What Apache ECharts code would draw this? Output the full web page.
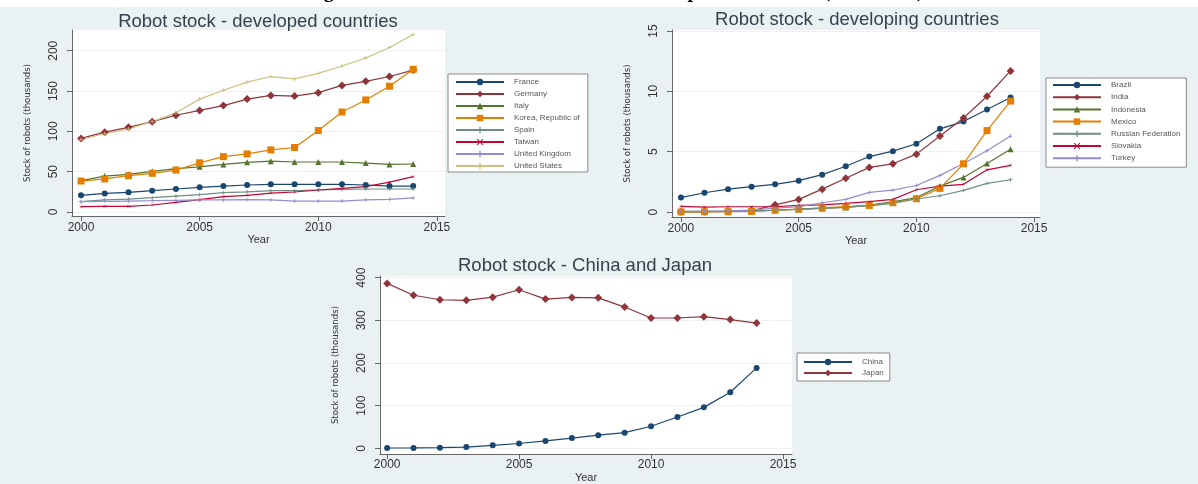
<!DOCTYPE html>
<html>
<head>
<meta charset="utf-8">
<script src="https://cdn.jsdelivr.net/npm/echarts@6/dist/echarts.min.js"></script>
<style>
html,body{margin:0;padding:0;background:#fff;}
#c{width:1198px;height:484px;}
</style>
</head>
<body>
<div id="c"></div>
<script>
// ---- data ----
const years = [2000,2001,2002,2003,2004,2005,2006,2007,2008,2009,2010,2011,2012,2013,2014];
const xTicks = [2000,2005,2010,2015];
const yTicksDeveloped = [0,50,100,150,200];
const yTicksDeveloping = [0,5,10,15];
const yTicksCJ = [0,100,200,300,400];

// developed countries (thousands)
const france  = [20.7,23,24.4,26.4,28.5,30.6,32.2,33.5,34.3,34.3,34.3,34.3,33.5,32.2,32.2];
const germany = [91.3,99,105,112,120,126,132,140,144.6,143.8,148,157,162,168,176];
const italy   = [39,44.6,46.7,50.4,53.7,56,59,61.6,63,62,62,62,60.7,59,59.5];
const korea   = [38.4,41,45,48,52,61,68.6,72,77,80,101,124,139,156,177];
const spain   = [12.8,15,16,17.8,19.8,21.5,24,25,26.4,26.4,27.3,28,28.5,28.5,28.5];
const taiwan  = [6.6,7,7,8.7,12,15.3,19,20.7,23.5,24.8,27.3,29.3,31.4,37,43.8];
const uk      = [12.8,13.2,13.6,14,14.5,15,15,15.3,15,13.6,13.6,13.6,15,15.7,17.4];
const us      = [90,97,103,112,123,140,151,161,168,165,172,181,191,204,220];

// developing countries (thousands)
const brazil    = [1.2,1.6,1.9,2.1,2.3,2.6,3.1,3.8,4.6,5.05,5.66,6.9,7.5,8.5,9.5];
const india     = [0.02,0.03,0.05,0.1,0.6,1.05,1.9,2.8,3.7,4.0,4.8,6.3,7.8,9.6,11.7];
const indonesia = [0.02,0.03,0.05,0.08,0.15,0.22,0.3,0.38,0.58,0.85,1.2,2.15,2.87,4.03,5.2];
const mexico    = [0.01,0.02,0.03,0.05,0.15,0.25,0.35,0.45,0.55,0.77,1.1,1.96,4.0,6.75,9.2];
const russia    = [0.05,0.05,0.08,0.1,0.15,0.25,0.33,0.4,0.52,0.72,1.08,1.35,1.8,2.38,2.68];
const slovakia  = [0.47,0.41,0.44,0.44,0.44,0.55,0.6,0.72,0.86,1.05,1.85,2.15,2.3,3.5,3.87];
const turkey    = [0.05,0.08,0.1,0.16,0.33,0.44,0.77,1.05,1.63,1.82,2.2,3.04,4.03,5.08,6.3];

// China and Japan (thousands)
const china = [0.8,1,1.5,3,7,11.3,17.3,24,30.8,36.8,51.8,73.5,96,131.3,188.4];
const japan = [386.5,358.7,348.2,346.7,354.2,371.5,349.7,353.5,352.7,331,305.4,305.4,308.4,301.7,293.4];

const namesDeveloped = ['France','Germany','Italy','Korea, Republic of','Spain','Taiwan','United Kingdom','United States'];
const namesDeveloping = ['Brazil','India','Indonesia','Mexico','Russian Federation','Slovakia','Turkey'];
const namesCJ = ['China','Japan'];

// ---- styles ----
const C = {navy:'#1a476f', maroon:'#90353b', green:'#55752f', orange:'#e37e00', teal:'#6e8e84', cran:'#c10534', lav:'#938dd2', khaki:'#cac27e'};
const PLUS = 'path://M4,0H6V4H10V6H6V10H4V6H0V4H4Z';
const XSYM = 'path://M1,0L5,4L9,0L10,1L6,5L10,9L9,10L5,6L1,10L0,9L4,5L0,1Z';
const txt = '#333';
const FONT = 'Liberation Sans, Arial, sans-serif';
const NARROW = 'Liberation Sans Narrow, DejaVu Sans Condensed, Arial Narrow, sans-serif';
const TITLEFONT = '18.5px "Liberation Sans", Arial, sans-serif';

function pairs(arr){ return years.map((y,i)=>[y, arr[i]]); }
function ser(name, arr, color, symbol, size, idx){
  return {type:'line', name, data:pairs(arr), xAxisIndex:idx, yAxisIndex:idx,
    symbol, symbolSize:size, showSymbol:true,
    lineStyle:{color, width:1.2}, itemStyle:{color}, emphasis:{disabled:true}, animation:false};
}
function xAx(idx, min, max, margin, gap){
  return {gridIndex:idx, type:'value', min, max,
    axisLine:{show:true, onZero:false, lineStyle:{color:'#666', width:1}},
    axisTick:{show:true, length:5, customValues:xTicks, lineStyle:{color:'#666'}},
    axisLabel:{customValues:xTicks, formatter:v=>String(v), color:txt, fontFamily:FONT, fontSize:12, margin},
    splitLine:{show:false},
    name:'Year', nameLocation:'middle', nameGap:gap,
    nameTextStyle:{color:txt, fontFamily:FONT, fontSize:11}};
}
function yAx(idx, min, max, ticks){
  return {gridIndex:idx, type:'value', min, max,
    axisLine:{show:true, onZero:false, lineStyle:{color:'#666', width:1}},
    axisTick:{show:true, length:5, customValues:ticks, lineStyle:{color:'#666'}},
    axisLabel:{customValues:ticks, formatter:v=>String(v), rotate:90, color:txt, fontFamily:FONT, fontSize:12, margin:12},
    splitLine:{show:true, lineStyle:{color:'#edf1f3', width:1}},
    name:'Stock of robots (thousands)', nameLocation:'middle', nameGap:39,
    nameTextStyle:{color:txt, fontFamily:NARROW, fontSize:9.5}};
}
function leg(names, left, top, padding, gap){
  return {data:names, orient:'vertical', left, top, itemWidth:48, itemHeight:8, itemGap:gap,
    padding, backgroundColor:'#fff', borderColor:'#8a8a8a', borderWidth:1, borderRadius:0,
    selectedMode:false,
    textStyle:{fontSize:8, color:'#555', fontFamily:FONT, lineHeight:10, padding:[0,0,0,5]}};
}

const chart = echarts.init(document.getElementById('c'), null, {renderer:'canvas'});
chart.setOption({
  backgroundColor:'#eaf1f3',
  animation:false,
  graphic:[
    {type:'rect', shape:{x:0,y:0,width:1198,height:7}, style:{fill:'#fff'}, z:0},
    {type:'text', x:306, y:-18, z:1, style:{text:'Figure 1: Evolution of robot stock in the sample of countries (thousands)', fill:'#000', font:'bold 20px "Liberation Serif", "Times New Roman", serif'}},
    {type:'text', x:258, y:22, z:1, style:{text:'Robot stock - developed countries', fill:'#37414c', font:TITLEFONT, align:'center', verticalAlign:'middle'}},
    {type:'text', x:857, y:20, z:1, style:{text:'Robot stock - developing countries', fill:'#37414c', font:TITLEFONT, align:'center', verticalAlign:'middle'}},
    {type:'text', x:585, y:266, z:1, style:{text:'Robot stock - China and Japan', fill:'#37414c', font:TITLEFONT, align:'center', verticalAlign:'middle'}}
  ],
  grid:[
    {left:72, top:30, width:373, height:186, show:true, backgroundColor:'#fff', borderWidth:0},
    {left:672, top:30, width:368, height:187, show:true, backgroundColor:'#fff', borderWidth:0},
    {left:380, top:276, width:412, height:185, show:true, backgroundColor:'#fff', borderWidth:0}
  ],
  xAxis:[
    xAx(0, 1999.62, 2015.34, 6, 15),
    xAx(1, 1999.62, 2015.25, 6, 15),
    xAx(2, 1999.73, 2015.34, 5, 13)
  ],
  yAxis:[
    yAx(0, -4.96, 225.7, yTicksDeveloped),
    yAx(1, -0.41, 15.09, yTicksDeveloping),
    yAx(2, -13.5, 403.8, yTicksCJ)
  ],
  legend:[
    leg(namesDeveloped, 448, 74, [3,8,1,7], 2),
    leg(namesDeveloping, 1046, 78, [2,6,4,6], 2.2),
    leg(namesCJ, 797, 353, [4,6,3,6], 1)
  ],
  series:[
    ser('France', france, C.navy, 'circle', 6, 0),
    ser('Germany', germany, C.maroon, 'diamond', 8, 0),
    ser('Italy', italy, C.green, 'triangle', 6, 0),
    ser('Korea, Republic of', korea, C.orange, 'rect', 7, 0),
    ser('Spain', spain, C.teal, PLUS, 4, 0),
    ser('Taiwan', taiwan, C.cran, XSYM, 3, 0),
    ser('United Kingdom', uk, C.lav, PLUS, 4, 0),
    ser('United States', us, C.khaki, PLUS, 4, 0),

    ser('Brazil', brazil, C.navy, 'circle', 6, 1),
    ser('India', india, C.maroon, 'diamond', 8, 1),
    ser('Indonesia', indonesia, C.green, 'triangle', 6, 1),
    ser('Mexico', mexico, C.orange, 'rect', 7, 1),
    ser('Russian Federation', russia, C.teal, PLUS, 4, 1),
    ser('Slovakia', slovakia, C.cran, XSYM, 3, 1),
    ser('Turkey', turkey, C.lav, PLUS, 4, 1),

    ser('China', china, C.navy, 'circle', 6, 2),
    ser('Japan', japan, C.maroon, 'diamond', 8, 2)
  ]
});
</script>
</body>
</html>
